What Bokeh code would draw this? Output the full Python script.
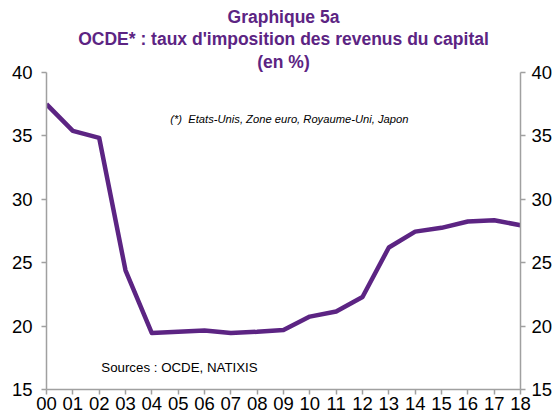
from bokeh.plotting import figure
from bokeh.models import LinearAxis, FixedTicker, Range1d, Title, Label
from bokeh.embed import file_html
from bokeh.resources import INLINE

years = list(range(0, 19))
year_labels = ["00", "01", "02", "03", "04", "05", "06", "07", "08", "09",
               "10", "11", "12", "13", "14", "15", "16", "17", "18"]
taux = [37.5, 35.4, 34.85, 24.4, 19.45, 19.55, 19.65, 19.45, 19.55, 19.7,
        20.75, 21.15, 22.3, 26.2, 27.45, 27.75, 28.25, 28.35, 27.95]
y_ticks = [15, 20, 25, 30, 35, 40]

PURPLE = "#5c2483"
GREY = "#a0a0a0"
FONT = "Liberation Sans"

p = figure(width=555, height=416, output_backend="svg", toolbar_location=None,
           x_range=Range1d(0, 18), y_range=Range1d(15, 40),
           min_border_left=46, min_border_right=34, min_border_top=72,
           min_border_bottom=27, background_fill_color="white",
           border_fill_color="white")
p.outline_line_color = None
p.xgrid.visible = False
p.ygrid.visible = False

p.line(years, taux, line_color=PURPLE, line_width=4.5, line_join="round")

# x axis
xa = p.xaxis[0]
xa.ticker = FixedTicker(ticks=years)
xa.major_label_overrides = {y: l for y, l in zip(years, year_labels)}
xa.minor_tick_line_color = None

# y axes
ya = p.yaxis[0]
ya.ticker = FixedTicker(ticks=y_ticks)
ry = LinearAxis(ticker=FixedTicker(ticks=y_ticks))
p.add_layout(ry, "right")

for ax in [xa, ya, ry]:
    ax.axis_line_color = GREY
    ax.axis_line_width = 1.5
    ax.major_tick_line_color = GREY
    ax.major_tick_line_width = 1.5
    ax.major_tick_out = 5
    ax.major_tick_in = 0
    ax.minor_tick_line_color = None
    ax.major_label_text_font = FONT
    ax.major_label_text_font_size = "18.5px"
    ax.major_label_text_color = "black"
xa.major_label_standoff = 2
ya.major_label_standoff = 9
ry.major_label_standoff = 6

titles = [("(en %)", 2), ("OCDE* : taux d'imposition des revenus du capital", 0),
          ("Graphique 5a", 0)]
for txt, so in titles:
    t = Title(text=txt, align="center", text_font=FONT, text_font_size="17.5px",
              text_font_style="bold", text_color=PURPLE, standoff=so)
    p.add_layout(t, "above")

p.add_layout(Label(x=4.7, y=36.35, text="(*)\u00a0\u00a0Etats-Unis, Zone euro, Royaume-Uni, Japon",
                   text_font=FONT, text_font_size="11.2px", text_font_style="italic",
                   text_color="black", text_baseline="middle"))
p.add_layout(Label(x=2.08, y=16.7, text="Sources : OCDE, NATIXIS",
                   text_font=FONT, text_font_size="13.3px",
                   text_color="black", text_baseline="middle"))

open("out.html", "w").write(file_html(p, INLINE))
